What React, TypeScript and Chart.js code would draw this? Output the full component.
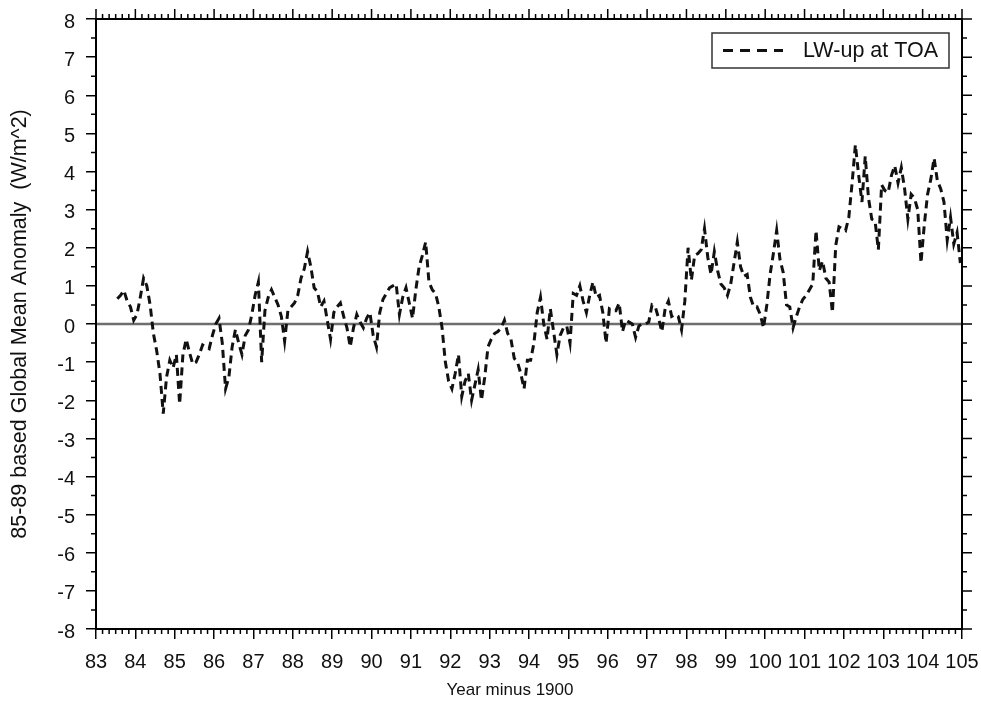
import React, { useEffect, useRef } from "react";
import { Chart, registerables } from "chart.js";

Chart.register(...registerables);

// ---- data ----
const FIRST_MONTH_YEAR = 83.5; // July 1983 (year minus 1900)
const SERIES_LABEL = "LW-up at TOA";
const X_TITLE = "Year minus 1900";
const Y_TITLE = "85-89 based Global Mean Anomaly  (W/m^2)";
const X_TICKS = [83, 84, 85, 86, 87, 88, 89, 90, 91, 92, 93, 94, 95, 96, 97, 98, 99, 100, 101, 102, 103, 104, 105];
const Y_TICKS = [-8, -7, -6, -5, -4, -3, -2, -1, 0, 1, 2, 3, 4, 5, 6, 7, 8];

// monthly anomalies, Jul 1983 .. Dec 2004
const LW_UP_TOA = [
  0.66, 0.75, 0.88, 0.6, 0.45, 0.1,
  0.25, 0.7, 1.2, 1.0, 0.5, -0.25, -0.7, -1.3, -2.35, -1.4, -0.95, -1.15,
  -0.8, -2.1, -0.8, -0.4, -0.75, -1.05, -1.0, -0.8, -0.55, -0.6, -0.65, -0.3,
  0.0, 0.15, -0.5, -1.7, -1.4, -0.6, -0.15, -0.5, -0.8, -0.3, -0.15, 0.25,
  0.75, 1.1, -1.0, 0.35, 0.7, 0.9, 0.7, 0.5, 0.2, -0.45, 0.35, 0.45,
  0.55, 0.75, 1.2, 1.45, 1.9, 1.5, 0.95, 0.85, 0.45, 0.6, 0.1, -0.4,
  0.3, 0.45, 0.55, 0.2, -0.1, -0.6, -0.1, 0.25, 0.05, -0.1, 0.15, 0.3,
  -0.3, -0.6, 0.3, 0.65, 0.8, 0.95, 1.0, 1.05, 0.25, 0.7, 0.95, 0.55,
  0.15, 0.9, 1.5, 1.8, 2.15, 1.1, 0.9, 0.8, 0.45, -0.1, -1.0, -1.5,
  -1.7, -1.3, -0.8, -1.9, -1.5, -1.3, -2.0, -1.6, -1.2, -2.0, -1.4, -0.6,
  -0.4, -0.25, -0.2, -0.1, 0.1, -0.25, -0.4, -0.9, -1.0, -1.3, -1.7, -0.95,
  -0.95, -0.5, 0.3, 0.7, 0.0, -0.4, 0.4, -0.2, -0.8, -0.3, -0.1, -0.05,
  -0.5, 0.8, 0.75, 1.0, 0.6, 0.3, 0.75, 1.1, 0.7, 0.75, 0.3, -0.5,
  0.4, 0.35, 0.35, 0.55, -0.2, 0.1, 0.05, 0.0, -0.35, -0.05, 0.0, 0.0,
  0.05, 0.5, 0.45, 0.15, -0.2, 0.4, 0.6, 0.2, 0.25, 0.2, -0.15, 0.6,
  2.0, 1.15, 1.8, 1.85, 1.95, 2.5, 1.75, 1.3, 1.9, 1.4, 1.05, 0.95,
  0.75, 1.05, 1.6, 2.15, 1.5, 1.25, 1.3, 0.7, 0.45, 0.45, 0.25, -0.1,
  0.5, 1.3, 1.85, 2.45, 1.7, 1.35, 0.5, 0.45, -0.1, 0.2, 0.45, 0.65,
  0.75, 0.9, 1.05, 2.45, 1.4, 1.65, 1.2, 1.1, 0.3, 2.05, 2.55, 2.5,
  2.45, 2.8, 3.7, 4.7, 3.9, 3.2, 4.4, 3.3, 2.75, 2.7, 1.95, 3.65,
  3.5, 3.45, 3.9, 4.15, 3.7, 4.1, 3.55, 2.75, 3.4, 3.3, 3.0, 1.6,
  2.6, 3.4, 3.8, 4.35, 3.75, 3.55, 3.2, 2.2, 2.8, 2.1, 2.4, 1.6,
];

const FONT = "'Liberation Sans', Arial, Helvetica, sans-serif";

const frameAndExtras = {
  id: "frameAndExtras",
  beforeDatasetsDraw(chart: any) {
    const { ctx, chartArea: a, scales } = chart;
    const y0 = scales.y.getPixelForValue(0);
    ctx.save();
    ctx.strokeStyle = "#6e6e6e";
    ctx.lineWidth = 2.5;
    ctx.beginPath();
    ctx.moveTo(a.left, y0);
    ctx.lineTo(a.right, y0);
    ctx.stroke();
    ctx.restore();
  },
  afterDraw(chart: any) {
    const { ctx, chartArea: a, scales } = chart;
    const xs = scales.x;
    const ys = scales.y;
    ctx.save();
    ctx.strokeStyle = "#000";
    ctx.lineWidth = 1.5;
    ctx.beginPath();
    for (let i = 0; i < X_TICKS.length; i++) {
      const v = X_TICKS[i];
      const px = xs.getPixelForValue(v);
      ctx.moveTo(px, a.top);
      ctx.lineTo(px, a.top - 10);
      if (i < X_TICKS.length - 1) {
        for (let k = 1; k < 6; k++) {
          const mx = xs.getPixelForValue(v + k / 6);
          ctx.moveTo(mx, a.bottom);
          ctx.lineTo(mx, a.bottom + 5);
          ctx.moveTo(mx, a.top);
          ctx.lineTo(mx, a.top - 5);
        }
      }
    }
    for (let i = 0; i < Y_TICKS.length; i++) {
      const v = Y_TICKS[i];
      const py = ys.getPixelForValue(v);
      ctx.moveTo(a.right, py);
      ctx.lineTo(a.right + 10, py);
      if (i < Y_TICKS.length - 1) {
        const my = ys.getPixelForValue(v + 0.5);
        ctx.moveTo(a.left, my);
        ctx.lineTo(a.left - 5, my);
        ctx.moveTo(a.right, my);
        ctx.lineTo(a.right + 5, my);
      }
    }
    ctx.stroke();
    ctx.lineWidth = 2;
    ctx.strokeRect(a.left, a.top, a.right - a.left, a.bottom - a.top);

    // x axis title
    ctx.fillStyle = "#111";
    ctx.font = `17px ${FONT}`;
    ctx.textAlign = "center";
    ctx.textBaseline = "middle";
    ctx.fillText(X_TITLE, 510, 690);

    // legend
    const bx = 712, by = 33, bw = 237, bh = 35;
    ctx.fillStyle = "#fff";
    ctx.fillRect(bx, by, bw, bh);
    ctx.lineWidth = 1.5;
    ctx.strokeStyle = "#333";
    ctx.strokeRect(bx, by, bw, bh);
    const ds = chart.data.datasets[0];
    ctx.strokeStyle = "#111";
    ctx.lineWidth = 3;
    ctx.setLineDash([10, 7]);
    ctx.beginPath();
    ctx.moveTo(723, by + bh / 2);
    ctx.lineTo(783, by + bh / 2);
    ctx.stroke();
    ctx.setLineDash([]);
    ctx.fillStyle = "#111";
    ctx.font = `21.5px ${FONT}`;
    ctx.textBaseline = "middle";
    ctx.textAlign = "left";
    ctx.fillText(ds.label, 803, by + bh / 2 + 1);
    ctx.restore();
  },
};

export default function App() {
  const ref = useRef<HTMLCanvasElement | null>(null);
  useEffect(() => {
    if (!ref.current) return;
    const points = LW_UP_TOA.map((v, i) => ({ x: FIRST_MONTH_YEAR + (i + 0.5) / 12, y: v }));
    const chart = new Chart(ref.current, {
      type: "line",
      data: {
        datasets: [
          {
            label: SERIES_LABEL,
            data: points,
            borderColor: "#111",
            borderWidth: 3,
            borderDash: [8, 5],
            borderCapStyle: "butt",
            pointRadius: 0,
            tension: 0,
            fill: false,
          },
        ],
      },
      options: {
        animation: false,
        responsive: true,
        maintainAspectRatio: false,
        layout: { padding: { left: 0, top: 19, right: 19, bottom: 0 } },
        plugins: { legend: { display: false }, tooltip: { enabled: false } },
        scales: {
          x: {
            type: "linear",
            min: 83,
            max: 105,
            afterBuildTicks: (s: any) => {
              s.ticks = X_TICKS.map((v) => ({ value: v }));
            },
            afterFit: (s: any) => {
              s.height = 77;
              s.paddingLeft = 0;
              s.paddingRight = 0;
            },
            ticks: {
              autoSkip: false,
              maxRotation: 0,
              color: "#111",
              padding: 11,
              font: { family: FONT, size: 20 },
              callback: (v: any) => String(v),
            },
            grid: { drawOnChartArea: false, drawTicks: true, tickLength: 10, color: "#000", lineWidth: 1.5 },
            border: { display: false },
            title: { display: false, text: X_TITLE },
          },
          y: {
            type: "linear",
            min: -8,
            max: 8,
            afterBuildTicks: (s: any) => {
              s.ticks = Y_TICKS.map((v) => ({ value: v }));
            },
            afterFit: (s: any) => {
              s.width = 96;
              s.paddingTop = 0;
              s.paddingBottom = 0;
            },
            ticks: {
              autoSkip: false,
              color: "#111",
              padding: 11,
              labelOffset: 3,
              font: { family: FONT, size: 20 },
              callback: (v: any) => String(v),
            },
            grid: { drawOnChartArea: false, drawTicks: true, tickLength: 10, color: "#000", lineWidth: 1.5 },
            border: { display: false },
            title: {
              display: true,
              text: Y_TITLE,
              color: "#111",
              font: { family: FONT, size: 21.5 },
              padding: { top: 7, bottom: 0 },
            },
          },
        },
      },
      plugins: [frameAndExtras],
    });
    return () => chart.destroy();
  }, []);
  return (
    <div style={{ position: "absolute", left: 0, top: 0, width: 981, height: 706, background: "#fff" }}>
      <canvas ref={ref} />
    </div>
  );
}
